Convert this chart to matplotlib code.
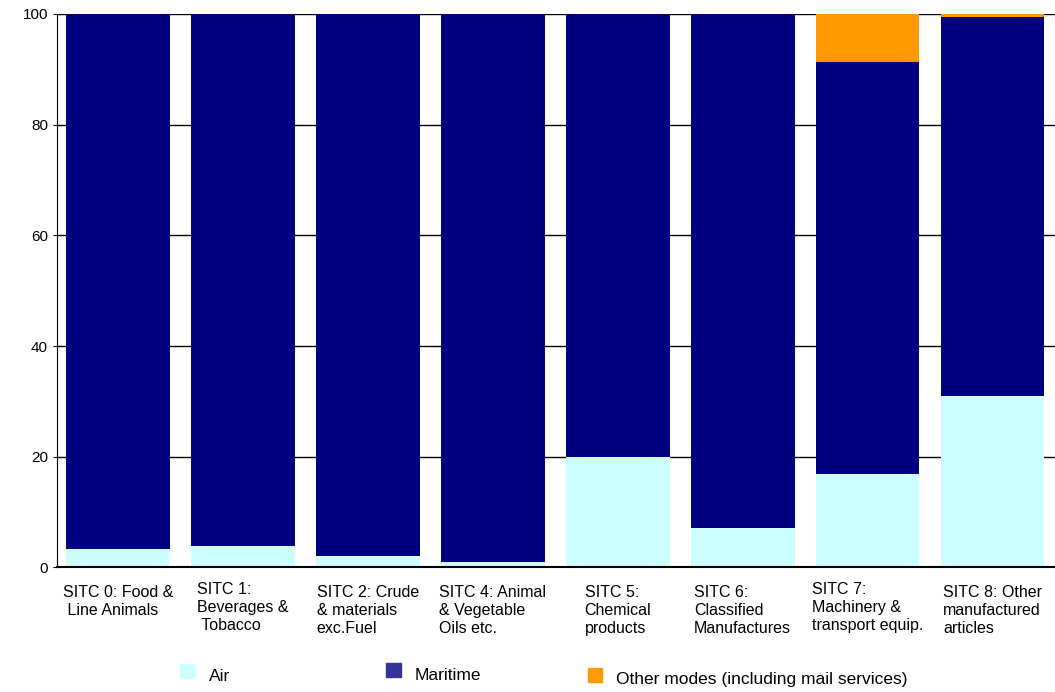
import matplotlib.pyplot as plt
import numpy as np

plt.rcParams['font.family'] = ['Liberation Sans', 'DejaVu Sans']

categories = ["SITC 0: Food &\n Line Animals", "SITC 1:\nBeverages &\n Tobacco",
              "SITC 2: Crude\n& materials\nexc.Fuel", "SITC 4: Animal\n& Vegetable\nOils etc.",
              "SITC 5:\nChemical\nproducts", "SITC 6:\nClassified\nManufactures",
              "SITC 7:\nMachinery &\ntransport equip.", "SITC 8: Other\nmanufactured\narticles"]
label_tops = [-3.2, -2.6, -3.2, -3.2, -3.2, -3.2, -2.6, -3.2]
air = [3.4, 3.8, 2.0, 0.9, 19.9, 7.2, 16.8, 30.9]
other = [0, 0, 0, 0, 0, 0, 8.7, 0.6]
maritime = [100 - a - o for a, o in zip(air, other)]

fig = plt.figure(figsize=(10.55, 6.92), dpi=100)
ax = fig.add_axes([0.054, 0.18, 0.946, 0.8])

x = np.arange(len(categories))
w = 0.83
ax.bar(x, air, w, color='#ccffff', label='Air', zorder=2)
ax.bar(x, maritime, w, bottom=air, color='#000080', label='Maritime', zorder=2)
ax.bar(x, other, w, bottom=np.array(air) + np.array(maritime), color='#ff9900',
       label='Other modes (including mail services)', zorder=2)

ax.set_xlim(-0.49, 7.5)
ax.set_ylim(0, 100)
ax.set_yticks([0, 20, 40, 60, 80, 100])
ax.yaxis.grid(True, color='black', linewidth=1, zorder=0)
ax.tick_params(axis='y', direction='inout', length=6, labelsize=11)
ax.set_xticks([])
for s in ['top', 'right']:
    ax.spines[s].set_visible(False)
ax.spines['bottom'].set_linewidth(1.5)

for i, lab in enumerate(categories):
    ax.text(i, label_tops[i], lab, ha='center', va='top', multialignment='left',
            fontsize=11.5, linespacing=1.25)

handles, labels = ax.get_legend_handles_labels()
fx = [0.171, 0.366, 0.557]
colors = ['#ccffff', '#333399', '#ff9900']
for c, l, xx, yy in zip(colors, labels, fx, [0.02, 0.022, 0.015]):
    fig.patches.append(plt.Rectangle((xx, yy), 0.014, 0.02, color=c,
                                     transform=fig.transFigure))
    fig.text(xx + 0.027, yy - 0.004, l, fontsize=12.5)

fig.savefig('out.png')
